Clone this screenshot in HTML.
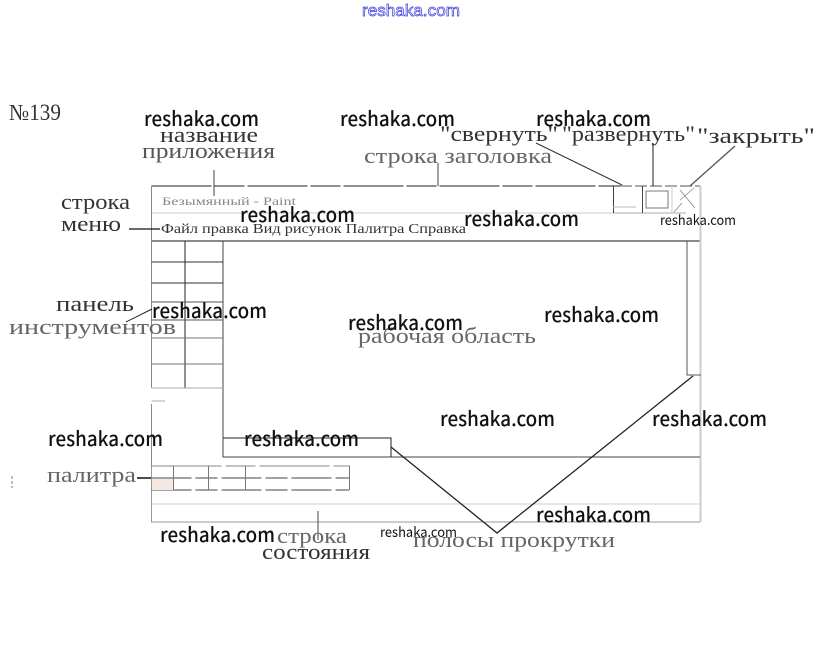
<!DOCTYPE html>
<html><head><meta charset="utf-8"><style>
html,body{margin:0;padding:0;background:#fff}
svg{display:block}
.l{font-family:"Liberation Serif","Noto Serif CJK SC",serif;font-size:22px;fill:#333}
.w{font-family:"Noto Sans CJK SC","Liberation Sans",sans-serif;font-size:20px;font-weight:500;fill:#111}
.s{font-family:"Noto Sans CJK SC","Liberation Sans",sans-serif;font-size:14px;fill:#111}
</style></head><body>
<svg width="820" height="666" viewBox="0 0 820 666" xmlns="http://www.w3.org/2000/svg">
<rect width="820" height="666" fill="#fff"/>
<text x="362" y="16" font-family="Liberation Sans,sans-serif" font-size="17" fill="#fff" stroke="#3a3adf" stroke-width=".7" textLength="98" lengthAdjust="spacingAndGlyphs">reshaka.com</text>

<g fill="none" stroke="#222" stroke-width="1">
<!-- window frame -->
<path d="M151.5 186H620" stroke-dasharray="60 3 30 3"/>
<path d="M620 186H700" stroke="#555" stroke-dasharray="12 3"/>
<path d="M151.5 213H613" stroke="#ccc"/>
<path d="M613 213H686" stroke="#aaa"/>
<path d="M151.5 241H700" stroke="#444" stroke-width="1.3"/>
<path d="M151.5 186V241M151.5 241V388M151.5 404V466" stroke="#888"/>
<path d="M151.5 466V522H700" stroke="#999"/>
<path d="M700.5 186V522" stroke="#ccc" stroke-width="2"/>
<!-- title buttons -->
<path d="M613.5 186V213M642.5 186V213" stroke="#444"/>
<path d="M613 207H636" stroke="#bbb"/>
<path d="M646 191V208H668V191H657M646 191H659" stroke="#777"/>
<path d="M672 186V213" stroke="#ccc"/>
<path d="M680 200L694 188M680 190L695 208M674 212L682 203" stroke="#888" stroke-width=".8"/>
<!-- tool panel -->
<path d="M223 241V300M223 300V390" stroke="#444"/>
<path d="M223 390V457H700" stroke="#444"/>
<path d="M185 241V388" stroke="#222"/>
<path d="M151.5 262H223M151.5 283H223" stroke="#333"/>
<path d="M151.5 302H223M151.5 320H223" stroke="#555"/>
<path d="M151.5 338H223M151.5 364H223" stroke="#777"/>
<path d="M151.5 388H223M151.5 401H165" stroke="#aaa"/>
<!-- bottom scroll -->
<path d="M223 438H391V457" stroke="#222"/>
<!-- palette -->
<path d="M151.5 466H350" stroke="#888" stroke-dasharray="70 4 30 4"/>
<path d="M151.5 478H349M151.5 490H349" stroke="#444" stroke-dasharray="40 4 22 4"/>
<path d="M173.5 466V490M208.5 466V490M245.5 466V490M349.5 466V490" stroke="#777"/>
<path d="M151.5 504H700" stroke="#ccc"/>
<!-- right scroll -->
<path d="M687 241V375H701" stroke="#555"/>
<!-- callouts -->
<path d="M214 170V196M438 163V186" stroke="#444"/>
<path d="M129 229H160" stroke="#111" stroke-width="1.3"/>
<path d="M126 322L152 309" stroke="#222"/>
<path d="M137 478H151" stroke="#111" stroke-width="1.5"/>
<path d="M318 511V540" stroke="#444"/>
<path d="M536 143L622 185" stroke="#333"/>
<path d="M653 143V186" stroke="#222"/>
<path d="M735 146L690 186" stroke="#555" stroke-width="1.3"/>
<path d="M391 447L497 533L693 376" stroke="#222" stroke-width="1.3"/>
<path d="M12 476V488" stroke="#777" stroke-dasharray="3 2"/>
</g>
<rect x="152" y="479" width="21" height="11" fill="#f3e8e2"/>

<text class="l" x="9" y="120" style="font-size:23px" textLength="52" lengthAdjust="spacingAndGlyphs">№139</text>
<text class="l" x="160" y="142" textLength="98" lengthAdjust="spacingAndGlyphs">название</text>
<text class="l" x="142" y="158" textLength="133" lengthAdjust="spacingAndGlyphs" style="fill:#555">приложения</text>
<text class="l" x="364" y="163" textLength="188" lengthAdjust="spacingAndGlyphs" style="fill:#666">строка заголовка</text>
<text class="l" x="440" y="141" textLength="118" lengthAdjust="spacingAndGlyphs">"свернуть"</text>
<text class="l" x="562" y="141" textLength="133" lengthAdjust="spacingAndGlyphs">"развернуть"</text>
<text class="l" x="697" y="143" textLength="118" lengthAdjust="spacingAndGlyphs">"закрыть"</text>
<text class="l" x="61" y="209" textLength="69" lengthAdjust="spacingAndGlyphs">строка</text>
<text class="l" x="61" y="231" textLength="60" lengthAdjust="spacingAndGlyphs">меню</text>
<text class="l" x="162" y="205" style="font-size:12px;fill:#888" textLength="134" lengthAdjust="spacingAndGlyphs">Безымянный - Paint</text>
<text class="l" x="161" y="233" style="font-size:14px" textLength="305" lengthAdjust="spacingAndGlyphs">Файл правка Вид рисунок Палитра Справка</text>
<text class="l" x="56" y="311" textLength="78" lengthAdjust="spacingAndGlyphs">панель</text>
<text class="l" x="9" y="334" textLength="167" lengthAdjust="spacingAndGlyphs" style="fill:#666">инструментов</text>
<text class="l" x="358" y="343" textLength="178" lengthAdjust="spacingAndGlyphs" style="fill:#666">рабочая область</text>
<text class="l" x="47" y="482" textLength="89" lengthAdjust="spacingAndGlyphs" style="fill:#666">палитра</text>
<text class="l" x="277" y="543" textLength="70" lengthAdjust="spacingAndGlyphs" style="fill:#666">строка</text>
<text class="l" x="262" y="559" textLength="108" lengthAdjust="spacingAndGlyphs">состояния</text>
<text class="l" x="413" y="547" textLength="202" lengthAdjust="spacingAndGlyphs" style="fill:#666">полосы прокрутки</text>

<g>
<text class="w" x="144" y="126" textLength="115" lengthAdjust="spacingAndGlyphs">reshaka.com</text>
<text class="w" x="340" y="126" textLength="115" lengthAdjust="spacingAndGlyphs">reshaka.com</text>
<text class="w" x="536" y="126" textLength="115" lengthAdjust="spacingAndGlyphs">reshaka.com</text>
<text class="w" x="240" y="222" textLength="115" lengthAdjust="spacingAndGlyphs">reshaka.com</text>
<text class="w" x="464" y="226" textLength="115" lengthAdjust="spacingAndGlyphs">reshaka.com</text>
<text class="w" x="152" y="318" textLength="115" lengthAdjust="spacingAndGlyphs">reshaka.com</text>
<text class="w" x="348" y="330" textLength="115" lengthAdjust="spacingAndGlyphs">reshaka.com</text>
<text class="w" x="544" y="322" textLength="115" lengthAdjust="spacingAndGlyphs">reshaka.com</text>
<text class="w" x="440" y="426" textLength="115" lengthAdjust="spacingAndGlyphs">reshaka.com</text>
<text class="w" x="652" y="426" textLength="115" lengthAdjust="spacingAndGlyphs">reshaka.com</text>
<text class="w" x="48" y="446" textLength="115" lengthAdjust="spacingAndGlyphs">reshaka.com</text>
<text class="w" x="244" y="446" textLength="115" lengthAdjust="spacingAndGlyphs">reshaka.com</text>
<text class="w" x="536" y="522" textLength="115" lengthAdjust="spacingAndGlyphs">reshaka.com</text>
<text class="w" x="160" y="542" textLength="115" lengthAdjust="spacingAndGlyphs">reshaka.com</text>
<text class="s" x="660" y="225" textLength="76" lengthAdjust="spacingAndGlyphs">reshaka.com</text>
<text class="s" x="380" y="537" textLength="77" lengthAdjust="spacingAndGlyphs">reshaka.com</text>
</g>
</svg>
</body></html>
